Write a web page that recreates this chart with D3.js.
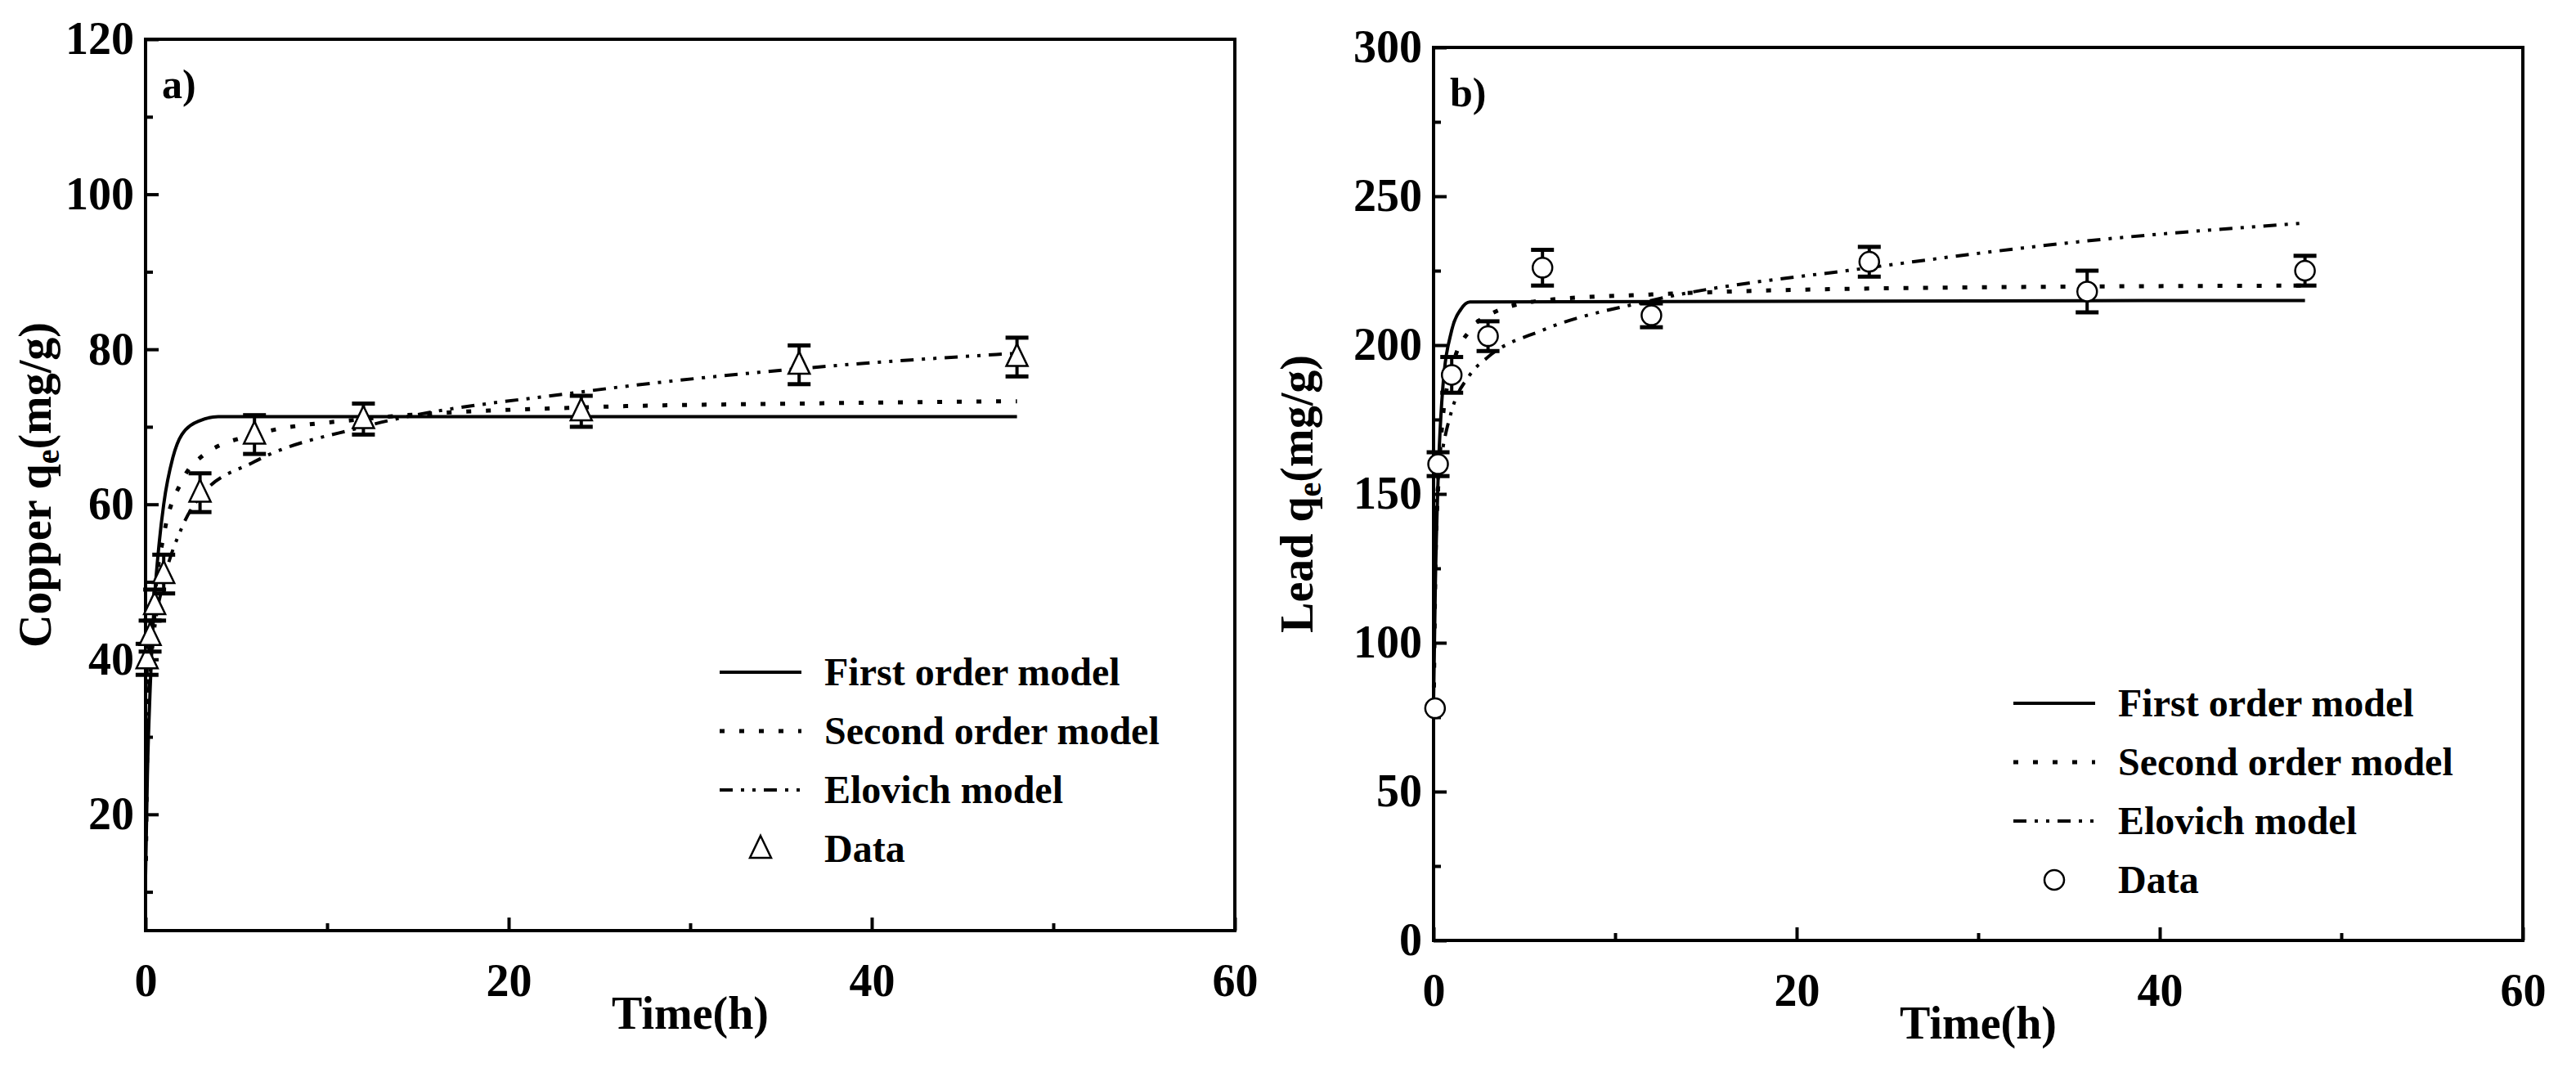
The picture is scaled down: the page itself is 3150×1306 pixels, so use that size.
<!DOCTYPE html><html><head><meta charset="utf-8"><script src="https://cdn.jsdelivr.net/npm/d3@7"></script>
<style>body{margin:0;background:#fff}text{font-family:"Liberation Serif","Times New Roman",serif;font-weight:bold}</style></head><body>
<svg id="c" width="3150" height="1306"></svg>
<script>
// Panel a (Copper)
const aTime=[0.083,0.25,0.5,1,3,6,12,24,36,48];
const aData=[40,43,47,51,61.5,69,71,72,78,79];
const aErr=[2,2,2,2.5,2.5,2.5,2,2,2.5,2.5];
const aFirstT=[0,0.1,0.25,0.5,0.75,1,1.5,2,3,4,48];
const aFirstV=[12,25,36,48,55,60,66,69,70.8,71.3,71.3];
const aSecondT=[0.02,0.1,0.25,0.5,1,2,3,6,12,24,36,48];
const aSecondV=[14,30,40,48,56,63,66,69,71,72.5,73,73.3];
const aElovT=[0.08,0.15,0.25,0.5,1,2,3,6,12,24,36,48];
const aElovV=[30,35,38,44,50,57,61,65.5,70,74.5,77.5,79.5];
// Panel b (Lead)
const bTime=[0.083,0.25,1,3,6,12,24,36,48];
const bData=[78,160,190,203,226,210,228,218,225];
const bErr=[0,4,6,5,6,4,5,7,5];
const bFirstT=[0,0.1,0.25,0.5,1,1.5,2,48];
const bFirstV=[80,120,155,185,205,212,214.5,215];
const bSecondT=[0.02,0.1,0.25,0.5,1,2,3,6,12,24,48];
const bSecondV=[85,125,152,175,192,205,210,215,217,219,220];
const bElovT=[0.1,0.25,0.5,1,2,3,6,12,24,36,48];
const bElovV=[140,155,165,178,190,196,205,215,226,235,241];
const legendLabels=["First order model","Second order model","Elovich model","Data"];

const svg=d3.select("#c");
function panel(o){
  const g=svg.append("g");
  const x=d3.scaleLinear().domain([0,60]).range([o.x0,o.x1]);
  const y=d3.scaleLinear().domain(o.yd).range([o.y1,o.y0]);
  g.append("rect").attr("x",o.x0).attr("y",o.y0).attr("width",o.x1-o.x0).attr("height",o.y1-o.y0).attr("fill","none").attr("stroke","#000").attr("stroke-width",4);
  const ax=g.append("g").attr("transform",`translate(0,${o.y1})`).call(d3.axisBottom(x).tickValues([0,20,40,60]).tickSize(-16).tickPadding(40).tickFormat(d3.format("d")));
  g.append("g").attr("transform",`translate(0,${o.y1})`).call(d3.axisBottom(x).tickValues([10,30,50]).tickSize(-9).tickFormat(""));
  const ay=g.append("g").attr("transform",`translate(${o.x0},0)`).call(d3.axisLeft(y).tickValues(o.yt).tickSize(-16).tickPadding(14));
  g.append("g").attr("transform",`translate(${o.x0},0)`).call(d3.axisLeft(y).tickValues(o.ym).tickSize(-9).tickFormat(""));
  g.selectAll(".domain").remove();
  g.selectAll(".tick line").attr("stroke-width",4);
  g.selectAll(".tick text").attr("font-size",56);
  g.append("text").attr("x",(o.x0+o.x1)/2).attr("y",o.y1+120).attr("text-anchor","middle").attr("font-size",56).text("Time(h)");
  const yl=g.append("text").attr("transform",`translate(${o.lx},${(o.y0+o.y1)/2}) rotate(-90)`).attr("text-anchor","middle").attr("font-size",56);
  yl.append("tspan").text(o.ylab+" q");yl.append("tspan").attr("font-size",40).attr("dy",10).text("e");yl.append("tspan").attr("dy",-10).text("(mg/g)");
  g.append("text").attr("x",o.x0+20).attr("y",o.y0+72).attr("font-size",50).text(o.tag);
  const clip=g.append("g");
  const line=d3.line().x(d=>x(d[0])).y(d=>y(d[1])).curve(d3.curveMonotoneX);
  const styles=[{da:null,w:4},{da:"6,18",w:5},{da:"16,10,4,10,4,10",w:4}];
  o.curves.forEach((c,i)=>{clip.append("path").datum(c[0].map((t,j)=>[t,c[1][j]])).attr("d",line).attr("fill","none").attr("stroke","#000").attr("stroke-width",styles[i].w).attr("stroke-dasharray",styles[i].da);});
  o.t.forEach((t,i)=>{
    const cx=x(t),v=o.d[i],e=o.e[i];
    if(e>0){g.append("line").attr("x1",cx).attr("x2",cx).attr("y1",y(v+e)).attr("y2",y(v-e)).attr("stroke","#000").attr("stroke-width",4);
      [v+e,v-e].forEach(vv=>g.append("line").attr("x1",cx-14).attr("x2",cx+14).attr("y1",y(vv)).attr("y2",y(vv)).attr("stroke","#000").attr("stroke-width",5));}
    marker(g,o.m,cx,y(v));
  });
  o.legend.forEach((l,i)=>{
    const ly=o.ly+i*72;
    if(i<3) g.append("line").attr("x1",o.lgx).attr("x2",o.lgx+100).attr("y1",ly).attr("y2",ly).attr("stroke","#000").attr("stroke-width",styles[i].w).attr("stroke-dasharray",styles[i].da);
    else marker(g,o.m,o.lgx+50,ly);
    g.append("text").attr("x",o.lgx+128).attr("y",ly+16).attr("font-size",48).text(l);
  });
}
function marker(g,m,cx,cy){
  if(m==="tri") g.append("path").attr("d",`M${cx},${cy-16}L${cx+13},${cy+11}L${cx-13},${cy+11}Z`).attr("fill","#fff").attr("stroke","#000").attr("stroke-width",2.5);
  else g.append("circle").attr("cx",cx).attr("cy",cy).attr("r",12).attr("fill","#fff").attr("stroke","#000").attr("stroke-width",2.5);
}
panel({x0:178,x1:1510,y0:48,y1:1138,yd:[5,120],yt:[20,40,60,80,100,120],ym:[10,30,50,70,90,110],ylab:"Copper",lx:62,tag:"a)",m:"tri",
  t:aTime,d:aData,e:aErr,curves:[[aFirstT,aFirstV],[aSecondT,aSecondV],[aElovT,aElovV]],legend:legendLabels,lgx:880,ly:822});
panel({x0:1753,x1:3085,y0:58,y1:1150,yd:[0,300],yt:[0,50,100,150,200,250,300],ym:[25,75,125,175,225,275],ylab:"Lead",lx:1605,tag:"b)",m:"circ",
  t:bTime,d:bData,e:bErr,curves:[[bFirstT,bFirstV],[bSecondT,bSecondV],[bElovT,bElovV]],legend:legendLabels,lgx:2462,ly:860});
</script></body></html>
